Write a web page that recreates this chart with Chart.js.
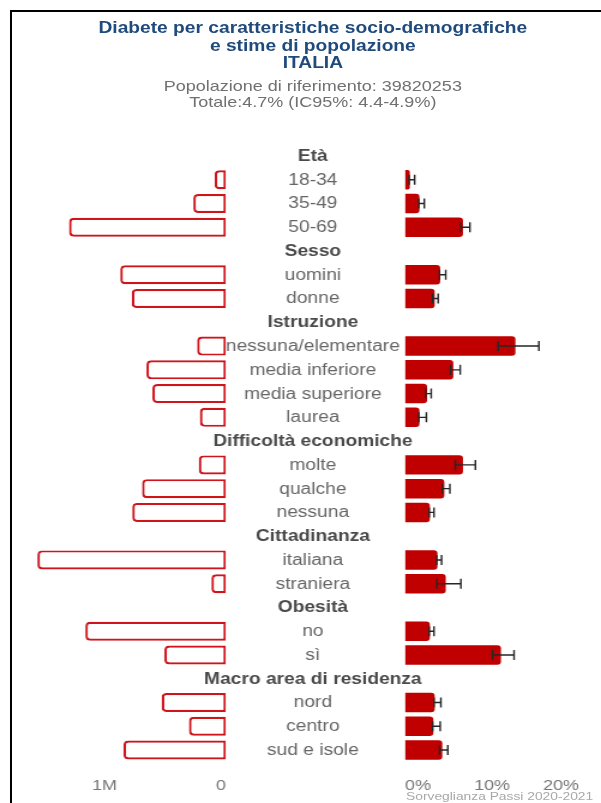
<!DOCTYPE html>
<html lang="it">
<head>
<meta charset="utf-8">
<title>Diabete per caratteristiche socio-demografiche</title>
<script src="https://cdn.jsdelivr.net/npm/chart.js@4.4.1/dist/chart.umd.min.js"></script>
<style>
  html, body { margin: 0; padding: 0; background: #fff; }
  body { width: 601px; height: 803px; overflow: hidden; position: relative;
         font-family: "Liberation Sans", Arial, Helvetica, sans-serif; }
  #frame { position: absolute; left: 10px; top: 10px; width: 600px; height: 800px;
           border-left: 2px solid #000; border-top: 2px solid #000; }
  /* the whole figure is laid out on a 501px grid and widened to the page */
  #stage { position: absolute; left: 0; top: 0; width: 501px; height: 803px;
           transform: scaleX(1.1996); transform-origin: 0 0; }
  .line { position: absolute; left: 0; width: 521.6px; text-align: center; white-space: nowrap; }
  .title { font-weight: bold; font-size: 16px; line-height: 18px; color: #1f4a7c; }
  .sub { font-size: 15px; line-height: 18px; color: #707070; }
  #source { position: absolute; right: 6.5px; top: 789px; font-size: 11.5px; line-height: 14px;
            color: #a8a8a8; white-space: nowrap; }
  canvas { position: absolute; left: 0; top: 0; }
</style>
</head>
<body>
<div id="frame"></div>
<div id="stage">
  <div class="line title" style="top:18.5px">Diabete per caratteristiche socio-demografiche</div>
  <div class="line title" style="top:36.5px">e stime di popolazione</div>
  <div class="line title" style="top:53.5px">ITALIA</div>
  <div class="line sub" style="top:76.5px">Popolazione di riferimento: 39820253</div>
  <div class="line sub" style="top:92.5px">Totale:4.7% (IC95%: 4.4-4.9%)</div>
  <canvas id="popChart" width="501" height="803"></canvas>
  <canvas id="prevChart" width="501" height="803"></canvas>
  <div id="source">Sorveglianza Passi 2020-2021</div>
</div>
<script>
// Rows of the chart: group headings followed by their categories
const rowLabels = [
  'Età', '18-34', '35-49', '50-69',
  'Sesso', 'uomini', 'donne',
  'Istruzione', 'nessuna/elementare', 'media inferiore', 'media superiore', 'laurea',
  'Difficoltà economiche', 'molte', 'qualche', 'nessuna',
  'Cittadinanza', 'italiana', 'straniera',
  'Obesità', 'no', 'sì',
  'Macro area di residenza', 'nord', 'centro', 'sud e isole'
];
const headerRows = ['Età', 'Sesso', 'Istruzione', 'Difficoltà economiche',
                    'Cittadinanza', 'Obesità', 'Macro area di residenza'];

// Estimated number of people with diabetes (null on heading rows)
const popEstimate = [
  null, 105000, 300000, 1440000,
  null, 970000, 865000,
  null, 265000, 730000, 675000, 240000,
  null, 250000, 770000, 860000,
  null, 1730000, 134000,
  null, 1290000, 565000,
  null, 590000, 340000, 940000
];

// Prevalence (%) with 95% confidence interval
const prevalence = [
  null, 0.7, 2.1, 8.4,
  null, 5.1, 4.3,
  null, 16.0, 7.0, 3.2, 2.1,
  null, 8.4, 5.7, 3.6,
  null, 4.7, 5.9,
  null, 3.6, 13.9,
  null, 4.3, 4.1, 5.4
];
const ciLow = [
  null, 0.6, 2.0, 8.1,
  null, 5.0, 4.0,
  null, 13.5, 6.6, 3.0, 2.0,
  null, 7.3, 5.4, 3.5,
  null, 4.6, 4.6,
  null, 3.5, 12.7,
  null, 4.2, 4.0, 5.0
];
const ciHigh = [
  null, 1.4, 2.8, 9.4,
  null, 5.9, 4.8,
  null, 19.4, 8.0, 3.8, 3.1,
  null, 10.2, 6.5, 4.2,
  null, 5.3, 8.1,
  null, 4.2, 15.8,
  null, 5.2, 5.1, 6.2
];

// Axis ticks
const popTicks = [0, 1000000];
const prevTicks = [0, 10, 20];

const FONT = '"Liberation Sans", Arial, Helvetica, sans-serif';
const LABEL_X = 260.8;       // centre of the label column
const PLOT_TOP = 144.1;
const AXIS_H = 41.1;

Chart.defaults.font.family = FONT;

// category names in the middle column
const rowLabelPlugin = {
  id: 'rowLabels',
  afterDraw(chart) {
    const y = chart.scales.y, ctx = chart.ctx;
    ctx.save();
    ctx.textAlign = 'center';
    ctx.textBaseline = 'middle';
    rowLabels.forEach((lab, i) => {
      const head = headerRows.includes(lab);
      ctx.font = (head ? 'bold ' : '') + '16px ' + FONT;
      ctx.fillStyle = head ? '#4a4a4a' : '#666666';
      ctx.fillText(lab, LABEL_X, y.getPixelForValue(i) + 0.5);
    });
    ctx.restore();
  }
};

// confidence interval whiskers
const errorBarPlugin = {
  id: 'errorBars',
  afterDatasetsDraw(chart) {
    const x = chart.scales.x, y = chart.scales.y, ctx = chart.ctx;
    ctx.save();
    ctx.strokeStyle = '#262626';
    ctx.lineWidth = 1.4;
    ciLow.forEach((lo, i) => {
      if (lo == null) return;
      const py = y.getPixelForValue(i);
      const x1 = x.getPixelForValue(lo), x2 = x.getPixelForValue(ciHigh[i]);
      ctx.beginPath();
      ctx.moveTo(x1, py); ctx.lineTo(x2, py);
      ctx.moveTo(x1, py - 5); ctx.lineTo(x1, py + 5);
      ctx.moveTo(x2, py - 5); ctx.lineTo(x2, py + 5);
      ctx.stroke();
    });
    ctx.restore();
  }
};

function baseOptions(padding) {
  return {
    indexAxis: 'y',
    responsive: false,
    animation: false,
    events: [],
    layout: { padding: padding, autoPadding: false },
    plugins: { legend: { display: false }, tooltip: { enabled: false }, title: { display: false } },
  };
}

function xAxis(extra, tickValues, fmt, align) {
  return Object.assign({
    type: 'linear',
    grid: { display: false, drawTicks: false },
    border: { display: false },
    afterBuildTicks(scale) { scale.ticks = tickValues.map(v => ({ value: v })); },
    afterFit(scale) { scale.height = AXIS_H; },
    ticks: {
      align: align,
      padding: 15,
      color: '#767676',
      font: { size: 15, family: FONT },
      callback: fmt,
      maxRotation: 0,
      autoSkip: false
    }
  }, extra);
}

const yAxis = {
  type: 'category',
  display: false,
  offset: true,
  grid: { display: false }
};

// left panel: population estimates, growing leftwards from 0
const popOpts = baseOptions({ top: PLOT_TOP, left: 24.8, right: 312.6, bottom: 0 });
popOpts.scales = {
  x: xAxis({ reverse: true, min: 0, max: 1800000 }, popTicks,
           v => v === 0 ? '0' : (v / 1000000) + 'M', 'end'),
  y: yAxis
};
new Chart(document.getElementById('popChart'), {
  type: 'bar',
  data: {
    labels: rowLabels,
    datasets: [{
      data: popEstimate,
      backgroundColor: '#ffffff',
      borderColor: '#d0141c',
      borderWidth: 2.2,
      borderSkipped: false,
      borderRadius: { topLeft: 4, bottomLeft: 4, topRight: 0, bottomRight: 0 },
      categoryPercentage: 1,
      barPercentage: 0.8
    }]
  },
  options: popOpts,
  plugins: [rowLabelPlugin]
});

// right panel: prevalence with confidence intervals
const prevOpts = baseOptions({ top: PLOT_TOP, left: 337.6, right: 16.5, bottom: 0 });
prevOpts.scales = {
  x: xAxis({ min: 0, max: 25 }, prevTicks, v => v + '%', 'start'),
  y: yAxis
};
new Chart(document.getElementById('prevChart'), {
  type: 'bar',
  data: {
    labels: rowLabels,
    datasets: [{
      data: prevalence,
      backgroundColor: '#c00000',
      borderWidth: 0,
      borderSkipped: false,
      borderRadius: { topLeft: 0, bottomLeft: 0, topRight: 3, bottomRight: 3 },
      categoryPercentage: 1,
      barPercentage: 0.82
    }]
  },
  options: prevOpts,
  plugins: [errorBarPlugin]
});
</script>
</body>
</html>
